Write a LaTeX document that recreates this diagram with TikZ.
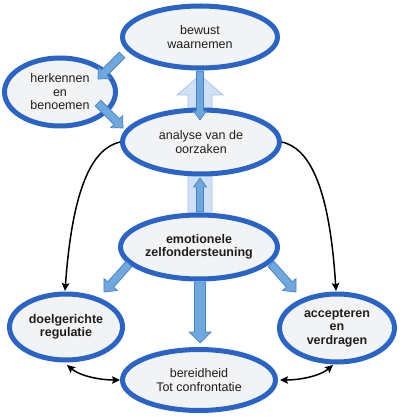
\documentclass[tikz,border=0pt]{standalone}
\usepackage{fontspec}
\setmainfont{Liberation Sans}
\usetikzlibrary{calc,arrows.meta,shapes.geometric}

\definecolor{ebord}{RGB}{42,100,198}
\definecolor{efill}{RGB}{242,243,245}
\definecolor{adark}{RGB}{111,168,220}
\definecolor{adarkline}{RGB}{70,130,200}
\definecolor{apale}{RGB}{207,226,243}
\definecolor{apaleline}{RGB}{165,196,232}
\definecolor{txt}{RGB}{30,30,30}

% #1 style, #2 start, #3 tip, #4 half shaft width, #5 half head width, #6 head length
\newcommand{\myblockarrow}[6]{%
  \draw[#1] ($(#2)!#4!90:(#3)$)
    -- ($($(#3)!#6!(#2)$)!#4!-90:(#2)$)
    -- ($($(#3)!#6!(#2)$)!#5!-90:(#2)$)
    -- (#3)
    -- ($($(#3)!#6!(#2)$)!#5!90:(#2)$)
    -- ($($(#3)!#6!(#2)$)!#4!90:(#2)$)
    -- ($(#2)!#4!-90:(#3)$) -- cycle;}

\tikzset{
  ell/.style={ellipse, draw=ebord, line width=5pt, fill=efill, inner sep=0pt,
    align=center, text=txt, font=\fontsize{12.5}{13.5}\selectfont},
  ellb/.style={ell, font=\fontsize{12.5}{13.5}\selectfont\bfseries},
  darkarrow/.style={fill=adark, draw=adarkline, line width=0.7pt, line join=miter},
  palearrow/.style={fill=apale, draw=apaleline, line width=0.7pt, line join=miter},
  curvearrow/.style={line width=1.5pt, black, -{Stealth[length=8pt,width=7.5pt,inset=1.5pt]}},
  dblarrow/.style={line width=1.5pt, black, {Stealth[length=8pt,width=7.5pt,inset=1.5pt]}-{Stealth[length=8pt,width=7.5pt,inset=1.5pt]}}
}

\begin{document}
\begin{tikzpicture}[x=1pt,y=-1pt]
\fill[white] (0,0) rectangle (400,419);
\useasboundingbox (0,0) rectangle (400,419);

% big pale arrow behind
\coordinate (pA) at (200,232);
\coordinate (pB) at (200,75);
\myblockarrow{palearrow}{pA}{pB}{12pt}{23pt}{20pt}

% nodes
\node[ell, minimum width=155pt, minimum height=62pt] (bew) at (200,37) {bewust\\waarnemen};
\node[ell, minimum width=111pt, minimum height=68pt] (her) at (60,92) {herkennen\\en\\benoemen};
\node[ell, minimum width=157pt, minimum height=64pt] (ana) at (201,142) {analyse van de\\oorzaken};
\node[ellb, minimum width=157pt, minimum height=64pt] (emo) at (199,247) {emotionele\\zelfondersteuning};
\node[ellb, minimum width=113pt, minimum height=66pt] (doel) at (66,327) {doelgerichte\\regulatie};
\node[ellb, minimum width=115pt, minimum height=68pt] (acc) at (337,328) {accepteren\\en\\verdragen};
\node[ell, minimum width=153pt, minimum height=61pt] (ber) at (199,380) {bereidheid\\Tot confrontatie};

% block arrows
\coordinate (a1s) at (122,55);  \coordinate (a1e) at (98,79);
\coordinate (a2s) at (98,103);  \coordinate (a2e) at (123,128);
\coordinate (a3s) at (200,71);  \coordinate (a3e) at (200,120);
\coordinate (a4s) at (200,212); \coordinate (a4e) at (200,178);
\coordinate (a5s) at (129,264); \coordinate (a5e) at (104,292);
\coordinate (a6s) at (271,264); \coordinate (a6e) at (296,292);
\coordinate (a7s) at (200,282); \coordinate (a7e) at (200,343);
\myblockarrow{darkarrow}{a1s}{a1e}{4pt}{8.5pt}{9pt}
\myblockarrow{darkarrow}{a2s}{a2e}{4pt}{8.5pt}{9pt}
\myblockarrow{darkarrow}{a3s}{a3e}{3.5pt}{6.5pt}{9pt}
\myblockarrow{darkarrow}{a4s}{a4e}{3.5pt}{6.5pt}{9pt}
\myblockarrow{darkarrow}{a5s}{a5e}{4pt}{9pt}{10pt}
\myblockarrow{darkarrow}{a6s}{a6e}{4pt}{9pt}{10pt}
\myblockarrow{darkarrow}{a7s}{a7e}{5.5pt}{11pt}{11pt}

% black curves
\coordinate (cLs) at (120,142); \coordinate (cLe) at (65,291);
\coordinate (cRs) at (282,142); \coordinate (cRe) at (336,291);
\draw[curvearrow] (cLs) .. controls (95,148) and (73,180) .. (cLe);
\draw[curvearrow] (cRs) .. controls (307,148) and (329,180) .. (cRe);

\coordinate (dLs) at (67,365); \coordinate (dLe) at (120,380);
\coordinate (dRs) at (333,365); \coordinate (dRe) at (280,380);
\draw[dblarrow] (dLs) .. controls (80,376) and (100,380) .. (dLe);
\draw[dblarrow] (dRs) .. controls (320,376) and (300,380) .. (dRe);
\end{tikzpicture}
\end{document}
